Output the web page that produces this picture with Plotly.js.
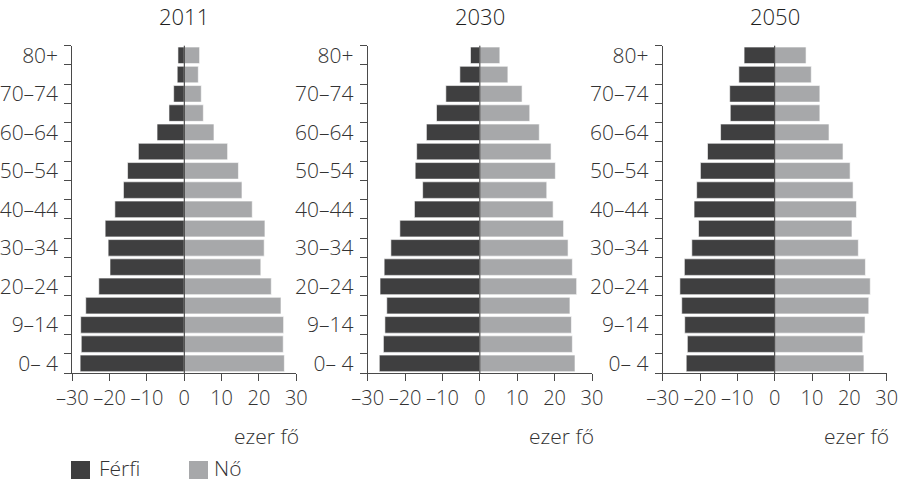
<!DOCTYPE html>
<html>
<head>
<meta charset="utf-8">
<script src="https://cdn.plot.ly/plotly-3.0.1.min.js"></script>
<style>
  html, body { margin: 0; padding: 0; background: #fff; }
  #chart { width: 905px; height: 483px; }
  #chart svg text { font-stretch: 90%; }
</style>
</head>
<body>
<div id="chart"></div>
<script>
// Age groups, bottom to top
const ageGroups = ["0–4","5–9","10–14","15–19","20–24","25–29","30–34","35–39","40–44","45–49","50–54","55–59","60–64","65–69","70–74","75–79","80+"];
const ageTickLabels = ["0– 4","","9–14","","20–24","","30–34","","40–44","","50–54","","60–64","","70–74","","80+"];
const years = ["2011","2030","2050"];

// thousand persons (ezer fő), bottom (0–4) to top (80+)
const male2011   = [27.9,27.6,27.75,26.4,22.9,19.9,20.4,21.2,18.6,16.3,15.2,12.3,7.3,4.1,2.85,1.9,1.7];
const female2011 = [26.8,26.5,26.6,25.9,23.3,20.5,21.4,21.6,18.2,15.45,14.5,11.6,7.95,5.1,4.55,3.75,4.1];
const male2030   = [26.9,25.8,25.4,24.9,26.7,25.6,23.8,21.4,17.5,15.3,17.3,16.9,14.3,11.6,9.1,5.35,2.5];
const female2030 = [25.45,24.75,24.5,24.1,25.9,24.75,23.6,22.4,19.6,17.9,20.2,19.05,15.9,13.35,11.3,7.5,5.35];
const male2050   = [23.7,23.4,24.1,24.9,25.4,24.2,22.2,20.4,21.6,20.9,19.9,18.0,14.5,11.9,12.05,9.6,8.2];
const female2050 = [23.9,23.6,24.2,25.2,25.6,24.3,22.4,20.7,21.9,21.0,20.2,18.3,14.55,12.1,12.1,9.8,8.4];

const xTickVals = [-30,-20,-10,0,10,20,30];
const xTickText = ["–30","–20","–10","0","10","20","30"];

const seriesNames = ["Férfi","Nő"];
const maleColor = "#3f3f40";
const femaleColor = "#a7a8aa";
const textColor = "#333333";
const lineColor = "#4a4a4a";
const FONT = "'Open Sans','Roboto',sans-serif";
const WEIGHT = 300;

const maleData = [male2011, male2030, male2050];
const femaleData = [female2011, female2030, female2050];

const W = 905, H = 483;
const xDomainsPx = [[72.3,296.3],[367.7,592],[662.7,886.7]];
const yDomain = [1 - 373/H, 1 - 45.7/H];

const traces = [];
const layout = {
  width: W, height: H,
  margin: {l:0, r:0, t:0, b:0},
  paper_bgcolor: "#fff", plot_bgcolor: "#fff",
  barmode: "relative",
  bargap: 0.14,
  showlegend: false,
  font: {family: FONT, size: 20, color: textColor, weight: WEIGHT},
  annotations: [],
  shapes: []
};

years.forEach((yr, i) => {
  const sfx = i === 0 ? "" : String(i+1);
  const xa = "x" + sfx, ya = "y" + sfx;
  traces.push({
    type: "bar", orientation: "h", name: seriesNames[0],
    y: ageGroups, x: maleData[i].map(v => -v),
    xaxis: xa, yaxis: ya,
    marker: {color: maleColor, line: {color: "#fff", width: 0.6}},
    hoverinfo: "skip"
  });
  traces.push({
    type: "bar", orientation: "h", name: seriesNames[1],
    y: ageGroups, x: femaleData[i],
    xaxis: xa, yaxis: ya,
    marker: {color: femaleColor, line: {color: "#fff", width: 0.6}},
    hoverinfo: "skip"
  });
  layout["xaxis" + sfx] = {
    domain: [xDomainsPx[i][0]/W, xDomainsPx[i][1]/W],
    anchor: ya,
    range: [-30, 30],
    tickmode: "array", tickvals: xTickVals, ticktext: xTickText,
    ticks: "outside", ticklen: 7, tickcolor: lineColor, tickwidth: 1,
    showline: true, linecolor: lineColor, linewidth: 1,
    showgrid: false, zeroline: false,
    tickfont: {family: FONT, size: 20, color: textColor, weight: WEIGHT},
    fixedrange: true
  };
  layout["yaxis" + sfx] = {
    domain: yDomain,
    anchor: xa,
    type: "category",
    categoryorder: "array", categoryarray: ageGroups,
    range: [-0.5, ageGroups.length - 0.5],
    tickmode: "array", tickvals: ageGroups, ticktext: ageTickLabels,
    tickson: "boundaries",
    ticks: "outside", ticklen: 7, tickcolor: lineColor, tickwidth: 1,
    showline: true, linecolor: lineColor, linewidth: 1,
    showgrid: false, zeroline: false,
    ticklabelstandoff: 9,
    tickfont: {family: FONT, size: 21, color: textColor, weight: WEIGHT},
    fixedrange: true
  };
  layout.shapes.push({
    type: "line", xref: xa, yref: ya + " domain",
    x0: 0, x1: 0, y0: 0, y1: 1,
    line: {color: "#333", width: 1}, layer: "above"
  });
  layout.annotations.push({
    text: yr, xref: xa, x: 0, yref: "paper", y: 1 - 16/H,
    xanchor: "center", yanchor: "middle", showarrow: false,
    font: {family: FONT, size: 22, color: "#1e1e1e", weight: 350}
  });
  layout.annotations.push({
    text: "ezer fő", xref: xa + " domain", x: 1.02, yref: "paper", y: 1 - 436/H,
    xanchor: "right", yanchor: "middle", showarrow: false,
    font: {family: FONT, size: 21, color: textColor, weight: WEIGHT}
  });
});

// legend (drawn manually to match the large square swatches)
const legendItems = [
  {name: seriesNames[0], color: maleColor, x0: 71, tx: 98},
  {name: seriesNames[1], color: femaleColor, x0: 189, tx: 213}
];
legendItems.forEach(it => {
  layout.shapes.push({
    type: "rect", xref: "paper", yref: "paper",
    x0: it.x0/W, x1: (it.x0+19)/W, y0: 1 - 479/H, y1: 1 - 461/H,
    fillcolor: it.color, line: {width: 0}
  });
  layout.annotations.push({
    text: it.name, xref: "paper", yref: "paper",
    x: it.tx/W, y: 0, xanchor: "left", yanchor: "bottom",
    borderpad: 0,
    showarrow: false, font: {family: FONT, size: 21, color: textColor, weight: WEIGHT}
  });
});

Plotly.newPlot("chart", traces, layout, {displayModeBar: false, staticPlot: true});
</script>
</body>
</html>
